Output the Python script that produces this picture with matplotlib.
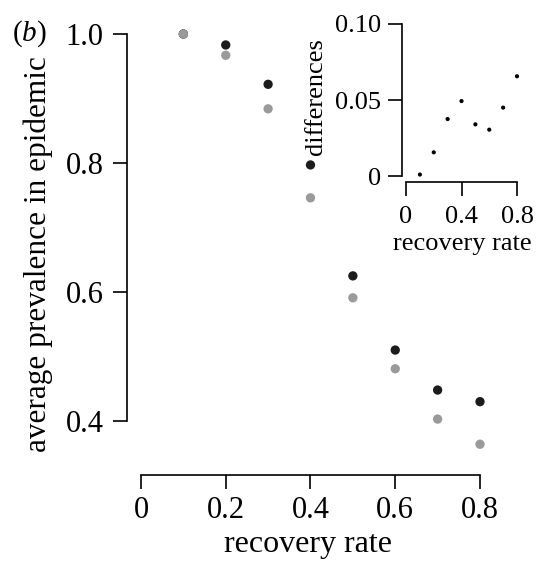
import matplotlib
matplotlib.use("Agg")
import matplotlib.pyplot as plt

plt.rcParams["font.family"] = ["Liberation Serif", "DejaVu Serif"]
plt.rcParams["mathtext.fontset"] = "custom"
plt.rcParams["mathtext.rm"] = "Liberation Serif"
plt.rcParams["mathtext.it"] = "Liberation Serif:italic"

# data
RATE       = [0.1, 0.2, 0.3, 0.4, 0.5, 0.6, 0.7, 0.8]
PREV_DARK  = [1.000, 0.983, 0.922, 0.797, 0.625, 0.510, 0.448, 0.430]
PREV_GREY  = [1.000, 0.967, 0.884, 0.746, 0.591, 0.481, 0.403, 0.364]
DIFFS      = [0.001, 0.0156, 0.0375, 0.0493, 0.034, 0.0305, 0.045, 0.0656]

MAIN_XTICKS = [0, 0.2, 0.4, 0.6, 0.8]
MAIN_YTICKS = [0.4, 0.6, 0.8, 1.0]
INS_XTICKS  = [0, 0.4, 0.8]
INS_YTICKS  = [0, 0.05, 0.10]
INS_YLABELS = ["0", "0.05", "0.10"]

W, H = 540, 571
DARK = "#1c1c1c"
GREY = "#9a9a9a"


def frac(l, r, b, t):
    return [l / W, 1 - b / H, (r - l) / W, (b - t) / H]


def style(ax, fs, tlen, xpad, ypad):
    for s in ["top", "right"]:
        ax.spines[s].set_visible(False)
    for s in ["left", "bottom"]:
        ax.spines[s].set_linewidth(1.2)
    ax.tick_params(direction="out", length=tlen, width=1.2, labelsize=fs)
    ax.tick_params(axis="x", pad=xpad)
    ax.tick_params(axis="y", pad=ypad)


fig = plt.figure(figsize=(W / 100, H / 100), dpi=100)

# main panel
ax = fig.add_axes(frac(127, 490, 475, 28))
ax.scatter(RATE, PREV_GREY, s=45, color=GREY, edgecolors="none", zorder=3)
ax.scatter(RATE, PREV_DARK, s=45, color=DARK, edgecolors="none", zorder=4)
ax.scatter(RATE[:1], PREV_GREY[:1], s=45, color=GREY, edgecolors="none", zorder=5)
ax.set_xlim(-0.033, 0.8236)
ax.set_ylim(0.3163, 1.0093)
ax.spines["left"].set_bounds(0.4, 1.0)
ax.spines["bottom"].set_bounds(0, 0.8)
ax.set_xticks(MAIN_XTICKS)
ax.set_xticklabels(["0", "0.2", "0.4", "0.6", "0.8"])
ax.set_yticks(MAIN_YTICKS)
ax.set_yticklabels(["0.4", "0.6", "0.8", "1.0"])
style(ax, 22, 10, 5, 7)
ax.set_xlabel("recovery rate", fontsize=23, labelpad=4)
ax.set_ylabel("average prevalence in epidemic", fontsize=22.5)
ax.yaxis.set_label_coords(-0.205, 0.495)

fig.text(12 / W, 1 - 34 / H, r"($\it{b}$)", fontsize=21, va="center", ha="left")

# inset: differences
ins = fig.add_axes(frac(401.7, 522, 182, 20))
ins.scatter(RATE, DIFFS, s=9, color="black", edgecolors="none")
ins.set_xlim(-0.031, 0.836)
ins.set_ylim(-0.0039, 0.1026)
ins.spines["left"].set_bounds(0, 0.10)
ins.spines["bottom"].set_bounds(0, 0.8)
ins.set_xticks(INS_XTICKS)
ins.set_xticklabels(["0", "0.4", "0.8"])
ins.set_yticks(INS_YTICKS)
ins.set_yticklabels(INS_YLABELS)
style(ins, 19, 10, 7, 5)
ins.set_xlabel("recovery rate", fontsize=19, labelpad=4)
ins.set_ylabel("differences", fontsize=19)
ins.yaxis.set_label_coords(-0.62, 0.525)

fig.savefig("out.png", dpi=100)
